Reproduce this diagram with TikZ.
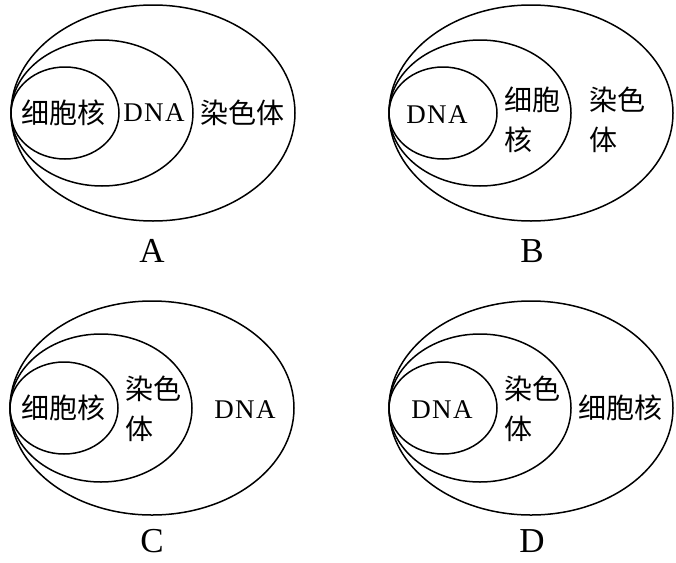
\documentclass[tikz,border=0pt]{standalone}
\usepackage{fontspec}
\setmainfont{Liberation Serif}
\newfontfamily\cjk{Noto Sans CJK SC}
\usetikzlibrary{positioning}

\begin{document}
\begin{tikzpicture}[
        x=1pt, y=-1pt,
        ring/.style={line width=1.5pt},
        zh/.style={font=\cjk\fontsize{28}{40}\selectfont, inner sep=0pt, align=left},
        en/.style={font=\fontsize{27}{30}\selectfont\addfontfeatures{LetterSpace=5}, inner sep=0pt},
        tag/.style={font=\fontsize{35}{40}\selectfont, inner sep=0pt, text depth=0pt, anchor=base}
    ]
    \useasboundingbox (0,0) rectangle (676,562);

    % A
    \draw[ring] (153,113) ellipse (142pt and 108pt);
    \draw[ring] (102,113) ellipse (91pt and 73pt);
    \draw[ring] (65,113) ellipse (54pt and 46pt);
    \node[zh] (a1) at (63,113) {细胞核};
    \node[en] (a2) at (154,113) {DNA};
    \node[zh] (a3) at (242,113) {染色体};
    \node[tag] (la) at (152,262) {A};

    % B
    \draw[ring] (531,113) ellipse (142pt and 108pt);
    \draw[ring] (480,113) ellipse (91pt and 73pt);
    \draw[ring] (443,113) ellipse (54pt and 46pt);
    \node[en] (b1) at (437,115) {DNA};
    \node[zh] (b2) at (532,120) {细胞\\核};
    \node[zh] (b3) at (617,120) {染色\\体};
    \node[tag] (lb) at (532,262) {B};

    % C
    \draw[ring] (152,408) ellipse (142pt and 107pt);
    \draw[ring] (101,408) ellipse (91pt and 74pt);
    \draw[ring] (64,408) ellipse (54pt and 46pt);
    \node[zh] (c1) at (63,408) {细胞核};
    \node[zh] (c2) at (153,409) {染色\\体};
    \node[en] (c3) at (245,410) {DNA};
    \node[tag] (lc) at (152,552) {C};

    % D
    \draw[ring] (531,408) ellipse (142pt and 107pt);
    \draw[ring] (480,408) ellipse (91pt and 74pt);
    \draw[ring] (443,408) ellipse (54pt and 46pt);
    \node[en] (d1) at (442,410) {DNA};
    \node[zh] (d2) at (532,409) {染色\\体};
    \node[zh] (d3) at (620,408) {细胞核};
    \node[tag] (ld) at (532,552) {D};
\end{tikzpicture}
\end{document}
